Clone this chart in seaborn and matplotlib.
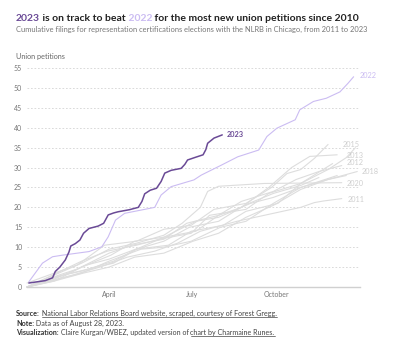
import matplotlib
matplotlib.use("Agg")
import matplotlib.pyplot as plt
import seaborn as sns
import pandas as pd

# ---------------- data (day of year, cumulative petitions) ----------------
days_2023 = [2, 20, 28, 31, 36, 42, 46, 48, 53, 58, 62, 68, 78, 84, 89, 95, 100, 112, 122, 126, 129, 135, 142, 147, 151, 158, 169, 173, 176, 185, 193, 196, 198, 205, 214]
vals_2023 = [1, 1.6, 2.3, 3.9, 5.0, 6.8, 8.8, 10.3, 10.9, 11.8, 13.5, 14.7, 15.3, 16, 18.1, 18.6, 18.9, 19.4, 20, 21.5, 23.4, 24.3, 24.8, 26.5, 28.6, 29.3, 29.8, 30.8, 31.9, 32.6, 33.2, 34.5, 36.1, 37.4, 38.2]

days_2022 = [2, 17, 28, 39, 68, 82, 89, 97, 107, 140, 147, 158, 183, 191, 213, 231, 254, 263, 274, 294, 299, 314, 328, 343, 352, 358]
vals_2022 = [1.3, 6, 7.6, 8, 8.9, 10.1, 12.6, 16.8, 18.5, 20, 23.1, 25.2, 26.9, 28.1, 30.6, 32.7, 34.4, 37.8, 39.9, 42, 44.5, 46.6, 47.4, 49, 51.2, 52.8]

gray_days = {
    "2011": [0, 25, 50, 80, 110, 140, 165, 190, 230, 270, 300, 315, 325, 345],
    "2012": [0, 35, 55, 90, 115, 150, 175, 210, 235, 270, 295, 320, 345],
    "2013": [0, 30, 65, 90, 125, 150, 185, 210, 235, 265, 290, 310, 340],
    "2014": [0, 40, 60, 95, 120, 155, 180, 215, 240, 275, 300, 330, 350, 360],
    "2015": [0, 30, 55, 85, 120, 150, 180, 205, 240, 268, 285, 300, 315, 330],
    "2016": [0, 30, 60, 92, 118, 150, 185, 210, 245, 270, 300, 340],
    "2017": [0, 28, 60, 88, 120, 145, 180, 200, 240, 265, 300, 335],
    "2018": [0, 35, 60, 90, 125, 150, 180, 212, 240, 270, 300, 330, 362],
    "2019": [0, 30, 58, 95, 120, 150, 178, 210, 238, 270, 300, 320],
    "2020": [0, 30, 60, 90, 120, 150, 170, 190, 198, 210, 260, 345],
    "2021": [0, 30, 62, 90, 118, 150, 182, 210, 240, 270, 300, 330, 350],
}
gray_vals = {
    "2011": [0, 1.5, 3, 5, 7.5, 9, 11, 14, 16.5, 18.5, 20, 21.2, 21.6, 22.2],
    "2012": [0, 3, 4.5, 8.5, 10.5, 12, 16, 18, 21.5, 24, 27, 29, 30.5],
    "2013": [0, 2, 5.5, 7, 10, 12.5, 14, 18, 20, 25, 30, 32.8, 33.2],
    "2014": [0, 3, 4, 6.5, 9.5, 10.5, 14, 15.5, 19, 21, 26, 29.5, 32.5, 35],
    "2015": [1, 3.5, 5.5, 10.5, 11.5, 14.5, 15.5, 19.5, 21, 25, 28.5, 29.5, 32.3, 35.8],
    "2016": [0, 1.5, 5, 8, 11.5, 12.5, 16.5, 17.5, 21, 22.5, 25, 28],
    "2017": [0, 3, 6.5, 9, 10.5, 12, 13.5, 18, 19.5, 23.5, 26, 31],
    "2018": [0, 2, 3.5, 6.5, 9.5, 10, 11.5, 15, 16.5, 21, 25, 27, 29],
    "2019": [0, 2.5, 4, 6, 9.5, 11.5, 15, 16.5, 20.5, 23.5, 25.5, 27.5],
    "2020": [0, 3, 6, 9.5, 11, 13, 16, 20, 24, 25.3, 26, 26.2],
    "2021": [0, 1.5, 3.5, 5, 7.5, 8.5, 11.5, 13.5, 17.5, 20.5, 24.5, 27, 28],
}
labelled_gray = ["2015", "2013", "2012", "2018", "2020", "2011"]
label_pos = {  # (day, value) where the label sits
    "2015": (346, 35.9), "2013": (350, 33.0), "2012": (350, 31.2),
    "2018": (367, 29.0), "2020": (350, 26.1), "2011": (351, 22.1),
}
month_ticks = [90, 181, 273]
month_labels = ["April", "July", "October"]
y_ticks = [0, 5, 10, 15, 20, 25, 30, 35, 40, 45, 50, 55]

# ---------------- build long table ----------------
rows = []
for yr in gray_days:
    for d, v in zip(gray_days[yr], gray_vals[yr]):
        rows.append((yr, d, v))
for d, v in zip(days_2022, vals_2022):
    rows.append(("2022", d, v))
for d, v in zip(days_2023, vals_2023):
    rows.append(("2023", d, v))
df = pd.DataFrame(rows, columns=["year", "day", "petitions"])

DARK = "#6a4a96"
LIGHT = "#cbbcf2"
GRAY = "#dddddd"
palette = {yr: GRAY for yr in gray_days}
palette["2022"] = LIGHT
palette["2023"] = DARK
sizes = {yr: 0.8 for yr in gray_days}
sizes["2022"] = 0.8
sizes["2023"] = 1.1

sns.set_theme(style="white")
plt.rcParams["font.family"] = ["Lato", "DejaVu Sans"]

fig = plt.figure(figsize=(3.95, 3.45), dpi=100)
ax = fig.add_axes([27 / 395, 1 - 287 / 345, (360 - 27) / 395, (287 - 68) / 345])

sns.lineplot(data=df, x="day", y="petitions", hue="year", palette=palette,
             size="year", sizes=sizes, hue_order=list(gray_days) + ["2022", "2023"],
             estimator=None, sort=False, legend=False, ax=ax)
for ln in ax.lines:
    ln.set_clip_on(False)
    ln.set_solid_capstyle("round")
    ln.set_solid_joinstyle("round")

ax.set_xlim(0, 365)
ax.set_ylim(0, 55)
ax.set_xticks(month_ticks)
ax.set_xticklabels(month_labels)
ax.set_yticks(y_ticks)
ax.tick_params(axis="both", length=0, labelsize=5, labelcolor="#777")
ax.tick_params(axis="y", pad=3.5)
ax.tick_params(axis="x", pad=3)
ax.set_xlabel("")
ax.set_ylabel("")
for s in ["top", "right", "left"]:
    ax.spines[s].set_visible(False)
ax.spines["bottom"].set_color("#d0d0d0")
ax.spines["bottom"].set_linewidth(1.0)
for yv in y_ticks[1:]:
    ax.axhline(yv, xmin=0, xmax=0.995, color="#d4d4d4", lw=0.6, ls=(0, (2, 2.2)), zorder=0)

# end labels
ax.text(219, 38.2, "2023", color=DARK, fontsize=5.3, fontweight="bold", va="center", ha="left")
ax.text(365, 53.0, "2022", color=LIGHT, fontsize=5.3, va="center", ha="left", clip_on=False)
for yr in labelled_gray:
    xd, yv = label_pos[yr]
    ax.text(xd, yv, yr, color="#cfcfcf", fontsize=5.3, va="center", ha="left", clip_on=False)

fig.text(16 / 395, 1 - 56 / 345, "Union petitions", fontsize=5.2, color="#666", va="center", ha="left")

# ---------------- multi-run text helper ----------------
fig.canvas.draw()
renderer = fig.canvas.get_renderer()
W, H = fig.get_size_inches() * fig.dpi


def runs(x_px, y_px, parts, size):
    x = x_px
    for txt, color, weight, underline in parts:
        t = fig.text(x / W, 1 - y_px / H, txt, fontsize=size, color=color,
                     fontweight=weight, va="baseline", ha="left")
        bb = t.get_window_extent(renderer)
        if underline:
            yl = (H - y_px - 1.4) / H
            x0 = bb.x0 + (2 if txt.startswith(" ") else 0)
            fig.add_artist(plt.Line2D([x0 / W, bb.x1 / W], [yl, yl], color=color, lw=0.5))
        x = bb.x1
    return x


TITLE_C = "#222222"
runs(16, 21, [("2023", DARK, "bold", False), (" is on track to beat", TITLE_C, "bold", False),
              (" 2022", LIGHT, "bold", False),
              (" for the most new union petitions since 2010", TITLE_C, "bold", False)], 7.45)
runs(16, 32, [("Cumulative filings for representation certifications elections with the NLRB in Chicago, from 2011 to 2023",
               "#777", "normal", False)], 5.4)

FC = "#444444"
runs(16, 316, [("Source:", "#333", "bold", False),
               (" National Labor Relations Board website, scraped, courtesy of Forest Gregg.", FC, "normal", True)], 5.1)
runs(16, 325.5, [("Note:", "#333", "bold", False), (" Data as of August 28, 2023.", FC, "normal", False)], 5.1)
runs(16, 335, [("Visualization:", "#333", "bold", False),
               (" Claire Kurgan/WBEZ, updated version of ", FC, "normal", False),
               ("chart by Charmaine Runes.", FC, "normal", True)], 5.1)

fig.savefig("out.png", dpi=100)
